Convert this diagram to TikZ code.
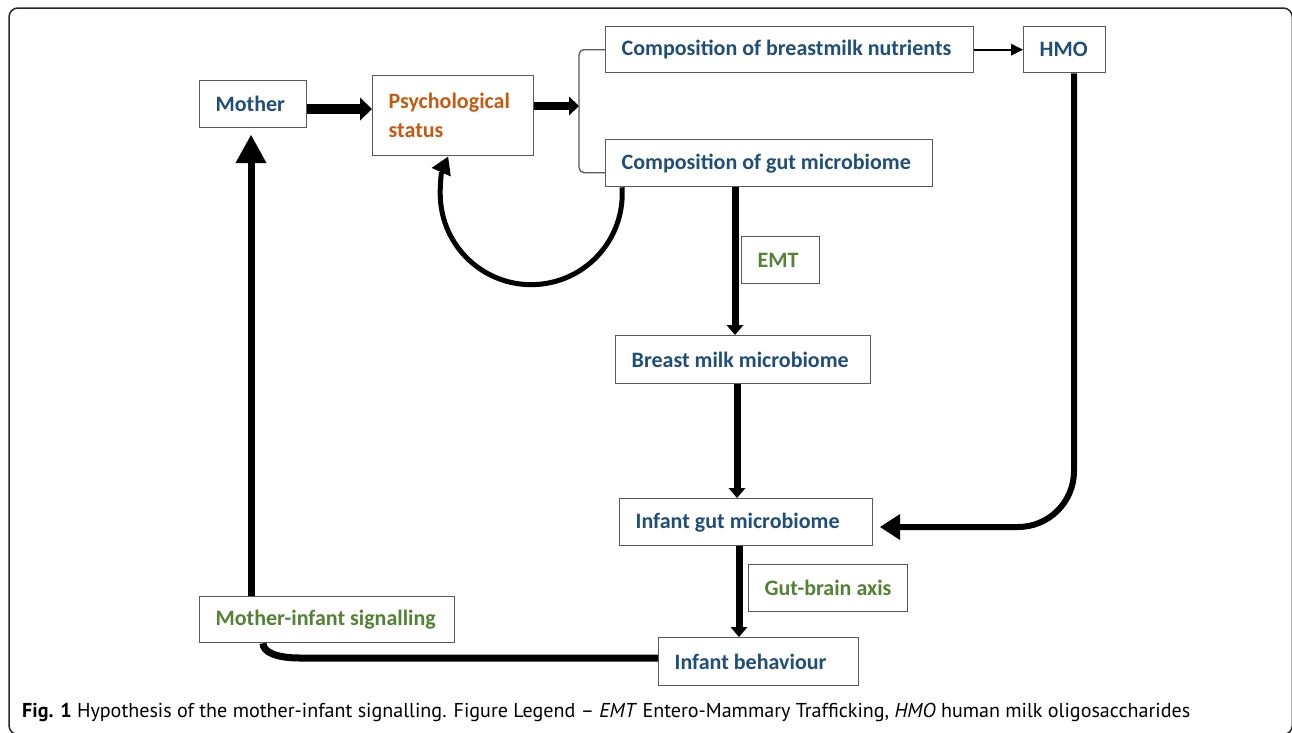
\documentclass[tikz,border=0pt]{standalone}
\usepackage{graphicx}
\usepackage{fontspec}
\setmainfont{Carlito}
\newfontfamily\capfont{PT Sans}
\usetikzlibrary{arrows.meta,calc}
\definecolor{tblue}{HTML}{1F4E79}
\definecolor{torange}{HTML}{C55A11}
\definecolor{tgreen}{HTML}{548235}
\definecolor{bgray}{HTML}{595959}
\newcommand\bt[2]{\makebox[\dimexpr#1pt-32pt\relax][l]{#2}}
\begin{document}
\begin{tikzpicture}[x=1pt,y=-1pt,
  bx/.style={draw=bgray, line width=1.3pt, inner xsep=16pt, inner ysep=2pt, anchor=north west,
    font=\fontsize{22}{29}\selectfont\bfseries},
  bluetxt/.style={text=tblue},
  orangetxt/.style={text=torange},
  greentxt/.style={text=tgreen},
  aone/.style={line width=10pt, -{Triangle[length=12pt,width=23pt,line width=0pt]}},
  atwo/.style={line width=8.5pt, -{Triangle[length=10pt,width=19pt,line width=0pt]}},
  athin/.style={line width=2pt, -{Triangle[length=12pt,width=12pt,line width=0pt]}},
  aarc/.style={line width=5pt, -{Triangle[length=17pt,width=21pt,line width=0pt]}},
  avert/.style={line width=7pt, -{Triangle[length=10pt,width=17pt,line width=0pt]}},
  ahmo/.style={line width=6pt, -{Triangle[length=20pt,width=26pt,line width=0pt]}},
  aup/.style={line width=7pt, -{Triangle[length=28pt,width=31pt,line width=0pt]}},
  plain/.style={line width=7pt},
  brk/.style={draw=bgray, line width=1.3pt}
]
\useasboundingbox (0,0) rectangle (1292,732);
\draw[line width=1.5pt, rounded corners=9pt, black!85] (9,8) rectangle (1292.3,734.5);

% boxes
\node[bx,bluetxt,minimum height=47pt] (mother) at (199,80) {\bt{107}{Mother}};
\node[bx,orangetxt,minimum height=80pt,text width=129pt,align=left] (psych) at (372,75) {Psychological\\status};
\node[bx,bluetxt,minimum height=46pt] (nut) at (605,26) {\bt{368}{Composition of breastmilk nutrients}};
\node[bx,bluetxt,minimum height=46pt] (hmo) at (1023,26) {\bt{82}{HMO}};
\node[bx,bluetxt,minimum height=47pt] (gutc) at (605,139) {\bt{327}{Composition of gut microbiome}};
\node[bx,greentxt,minimum height=47pt] (emt) at (741,236) {\bt{78}{EMT}};
\node[bx,bluetxt,minimum height=48pt] (breast) at (615,335) {\bt{255}{Breast milk microbiome}};
\node[bx,bluetxt,minimum height=47pt] (infgut) at (619,498) {\bt{253}{Infant gut microbiome}};
\node[bx,greentxt,minimum height=47pt] (gba) at (748,564) {\bt{159}{Gut-brain axis}};
\node[bx,bluetxt,minimum height=48pt] (behav) at (658,637) {\bt{200}{Infant behaviour}};
\node[bx,greentxt,minimum height=46pt] (sig) at (199,596) {\bt{255}{Mother-infant signalling}};

% connectors
\draw[aone] (mother.east |- 0,109) -- (psych.west |- 0,109);
\coordinate (bk) at (579,106);
\draw[atwo] (psych.east |- 0,106) -- (bk);
\coordinate (gb) at ($(gutc.west)+(0,9.5)$);
\draw[brk, rounded corners=5pt] (nut.west) -- (bk |- nut.west) -- (gb -| bk) -- (gb);
\draw[athin] (nut.east) -- (hmo.west);
\draw[aarc] ($(gutc.south west)+(17,0)$) arc[start angle=-4,end angle=204,radius=91];
\draw[avert] (gutc.south -| 735,0) -- (breast.north -| 735,0);
\draw[avert] (breast.south -| 737,0) -- (infgut.north -| 737,0);
\draw[avert] (infgut.south -| 739,0) -- (behav.north -| 739,0);
\coordinate (hmoin) at (880,527);
\draw[ahmo, rounded corners=56pt] (hmo.south -| 1074,0) |- (hmoin);
\draw[plain] (behav.west |- 0,658) -- (300,658) .. controls (276,658) and (263,652) .. (sig.south -| 263,0);
\coordinate (mtip) at (251,135);
\draw[aup] (sig.north -| 251,0) -- (mtip);

% caption
\node[anchor=west, inner sep=0pt] (cap) at (22,712) {\resizebox{1168pt}{!}{\capfont\fontsize{20}{24}\selectfont\textbf{Fig. 1} Hypothesis of the mother-infant signalling. Figure Legend – \textit{EMT} Entero-Mammary Trafficking, \textit{HMO} human milk oligosaccharides}};
\end{tikzpicture}
\end{document}
